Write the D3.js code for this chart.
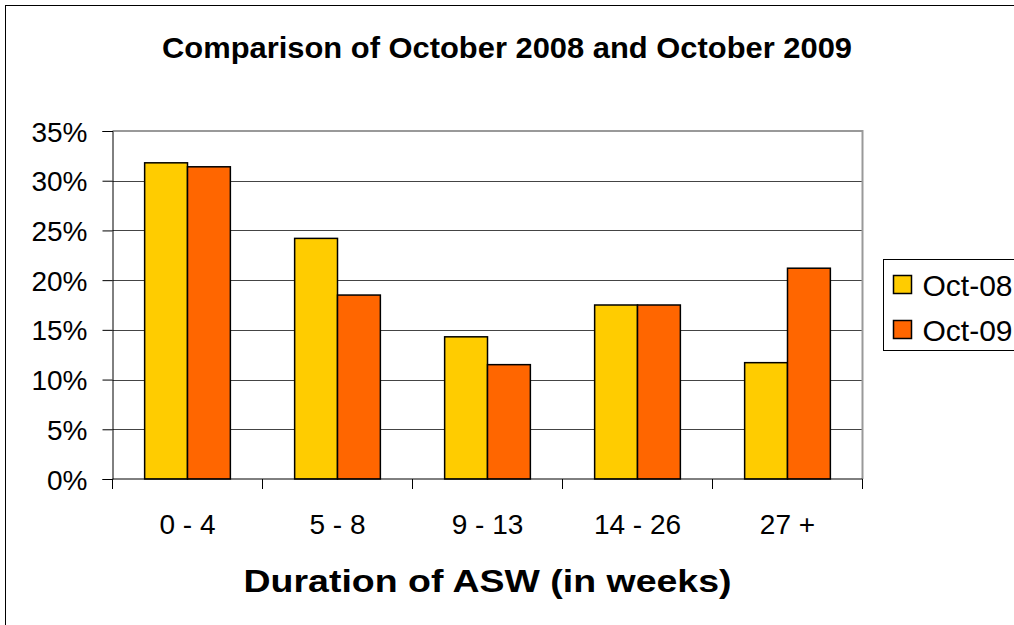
<!DOCTYPE html>
<html>
<head>
<meta charset="utf-8">
<script src="https://cdn.jsdelivr.net/npm/d3@7"></script>
<style>
  body { margin: 0; background: #fff; }
  svg text { font-family: "Liberation Sans", Arial, sans-serif; fill: #000; }
</style>
</head>
<body>
<div id="container"></div>
<script>
//chart data
var categories = ["0 - 4", "5 - 8", "9 - 13", "14 - 26", "27 +"];
var seriesNames = ["Oct-08", "Oct-09"];
var oct08 = [0.318, 0.242, 0.143, 0.175, 0.117];
var oct09 = [0.314, 0.185, 0.115, 0.175, 0.212];
var yTicks = [0, 0.05, 0.10, 0.15, 0.20, 0.25, 0.30, 0.35];

var colors = ["#FFCC00", "#FF6600"];

//page + plot area dimensions
var width = 1014, height = 625;
var plot = {left: 112.5, right: 862.5, top: 131, bottom: 479};

var svg = d3.select("#container")
    .append("svg")
    .attr("width", width)
    .attr("height", height);

//outer chart border (runs off the right and bottom edges)
svg.append("rect")
    .attr("x", 5.5).attr("y", 5.5)
    .attr("width", 1200).attr("height", 800)
    .attr("fill", "#fff")
    .attr("stroke", "#000")
    .attr("stroke-width", 1);

//scales
var x = d3.scaleBand().domain(categories).range([plot.left, plot.right]).padding(0);
var xSub = d3.scaleBand().domain(seriesNames).range([0, x.bandwidth()]).paddingInner(0).paddingOuter(0.75);
var y = d3.scaleLinear().domain([0, 0.35]).range([plot.bottom, plot.top]);

//gridlines
svg.append("g")
    .selectAll("line")
    .data(yTicks.slice(1, -1))
    .enter().append("line")
    .attr("x1", plot.left).attr("x2", plot.right)
    .attr("y1", function(d) { return Math.round(y(d)) + 0.5; })
    .attr("y2", function(d) { return Math.round(y(d)) + 0.5; })
    .attr("stroke", "#444")
    .attr("stroke-width", 1);

//plot area border (top + right)
svg.append("path")
    .attr("d", "M" + plot.left + "," + plot.top + "H" + plot.right + "V" + plot.bottom)
    .attr("fill", "none")
    .attr("stroke", "#999")
    .attr("stroke-width", 2);

//bars
var rows = categories.map(function(c, i) { return {cat: c, values: [oct08[i], oct09[i]]}; });
svg.append("g")
    .selectAll("g")
    .data(rows)
    .enter().append("g")
    .attr("transform", function(d) { return "translate(" + x(d.cat) + ",0)"; })
    .selectAll("rect")
    .data(function(d) { return seriesNames.map(function(k, j) { return {key: k, value: d.values[j], idx: j}; }); })
    .enter().append("rect")
    .attr("x", function(d) { return xSub(d.key); })
    .attr("y", function(d) { return y(d.value); })
    .attr("width", xSub.bandwidth())
    .attr("height", function(d) { return plot.bottom - y(d.value); })
    .attr("fill", function(d) { return colors[d.idx]; })
    .attr("stroke", "#000")
    .attr("stroke-width", 1.5);

//y axis
var yAxis = svg.append("g")
    .attr("transform", "translate(" + plot.left + ",0)")
    .call(d3.axisLeft(y).tickValues(yTicks).tickSize(10).tickPadding(15).tickFormat(d3.format(".0%")));
yAxis.selectAll("text").style("font-size", "28px").attr("dy", "0.36em");
yAxis.selectAll("line, path").attr("stroke", "#000");

//x axis
var xTickPos = categories.map(function(c) { return x(c); }).concat([plot.right]);
var xAxis = svg.append("g")
    .attr("transform", "translate(0," + plot.bottom + ")");
xAxis.append("line")
    .attr("x1", plot.left).attr("x2", plot.right)
    .attr("y1", 0).attr("y2", 0)
    .attr("stroke", "#000");
xAxis.selectAll("line.tick")
    .data(xTickPos)
    .enter().append("line")
    .attr("class", "tick")
    .attr("x1", function(d) { return d; }).attr("x2", function(d) { return d; })
    .attr("y1", 0).attr("y2", 10)
    .attr("stroke", "#000");
xAxis.selectAll("text")
    .data(categories)
    .enter().append("text")
    .attr("x", function(d) { return x(d) + x.bandwidth() / 2; })
    .attr("y", 54.5)
    .attr("text-anchor", "middle")
    .style("font-size", "28px")
    .text(function(d) { return d; });

//title
svg.append("text")
    .attr("x", 507)
    .attr("y", 58)
    .attr("text-anchor", "middle")
    .attr("textLength", 690)
    .attr("lengthAdjust", "spacingAndGlyphs")
    .style("font-size", "30px")
    .style("font-weight", "bold")
    .text("Comparison of October 2008 and October 2009");

//x axis title
svg.append("text")
    .attr("x", (plot.left + plot.right) / 2)
    .attr("y", 592)
    .attr("text-anchor", "middle")
    .attr("textLength", 488)
    .attr("lengthAdjust", "spacingAndGlyphs")
    .style("font-size", "32px")
    .style("font-weight", "bold")
    .text("Duration of ASW (in weeks)");

//legend
var legend = svg.append("g").attr("transform", "translate(883.5,259.5)");
legend.append("rect")
    .attr("x", 0).attr("y", 0)
    .attr("width", 200).attr("height", 91)
    .attr("fill", "#fff")
    .attr("stroke", "#000");
var items = legend.selectAll("g.item")
    .data(seriesNames)
    .enter().append("g")
    .attr("class", "item")
    .attr("transform", function(d, i) { return "translate(0," + (i * 45) + ")"; });
items.append("rect")
    .attr("x", 10).attr("y", 16)
    .attr("width", 18).attr("height", 18)
    .attr("fill", function(d, i) { return colors[i]; })
    .attr("stroke", "#000")
    .attr("stroke-width", 1.5);
items.append("text")
    .attr("x", 39)
    .attr("y", 36)
    .style("font-size", "30px")
    .text(function(d) { return d; });
</script>
</body>
</html>
